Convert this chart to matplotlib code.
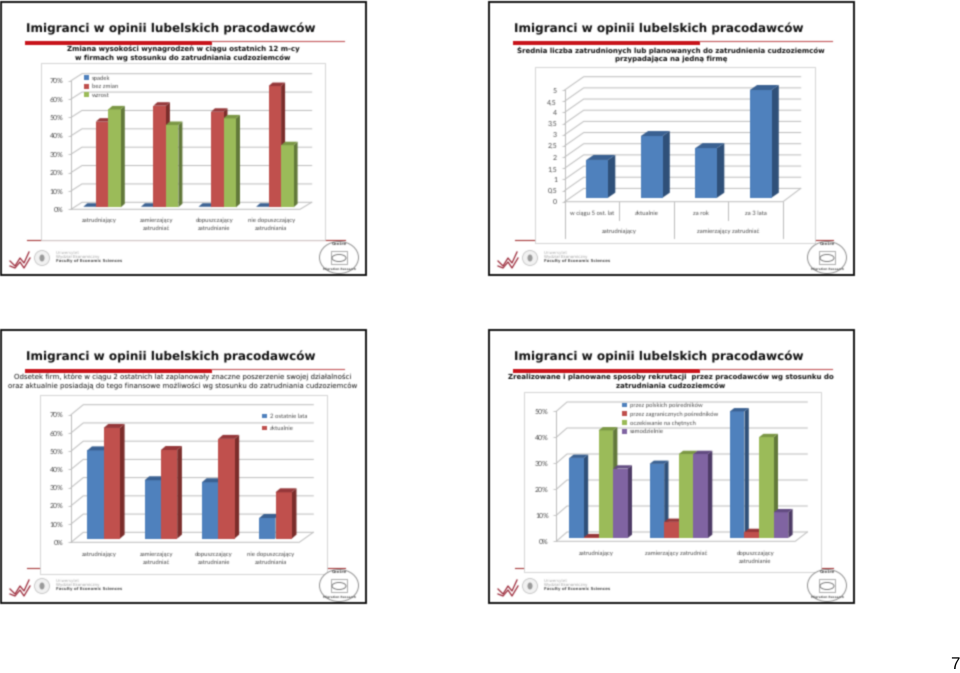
import matplotlib
matplotlib.use("Agg")
import numpy as np
import matplotlib.pyplot as plt
from matplotlib.patches import Rectangle, Polygon, Circle, Ellipse

plt.rcParams["text.hinting"] = "no_hinting"
plt.rcParams["text.hinting_factor"] = 1

W, H = 960, 673
TITLE = "Imigranci w opinii lubelskich pracodawców"

# ---------- data ----------
c1_cats = ["zatrudniający", "zamierzający\nzatrudniać", "dopuszczający\nzatrudnianie", "nie dopuszczający\nzatrudniania"]
c1_spadek = [0.3, 0.3, 0.3, 0.3]
c1_bez = [46.6, 55.3, 52.0, 66.0]
c1_wzrost = [53.3, 44.8, 48.4, 33.8]
c1_legend = ["spadek", "bez zmian", "wzrost"]
c1_ticks = [0, 10, 20, 30, 40, 50, 60, 70]

c2_inner = ["w ciągu 5 ost. lat", "aktualnie", "za rok", "za 3 lata"]
c2_outer = ["zatrudniający", "zamierzający zatrudniać"]
c2_vals = [1.69, 2.76, 2.22, 4.82]
c2_ticks = [0, 0.5, 1, 1.5, 2, 2.5, 3, 3.5, 4, 4.5, 5]
c2_ticklabels = ["0", "0,5", "1", "1,5", "2", "2,5", "3", "3,5", "4", "4,5", "5"]

c3_cats = c1_cats
c3_ostatnie = [48.4, 32.0, 30.9, 11.3]
c3_aktualnie = [60.7, 48.6, 54.7, 25.4]
c3_legend = ["2 ostatnie lata", "aktualnie"]
c3_ticks = c1_ticks

c4_cats = ["zatrudniający", "zamierzający zatrudniać", "dopuszczający\nzatrudnianie"]
c4_polscy = [30.8, 28.5, 48.7]
c4_zagr = [0.3, 6.2, 2.3]
c4_ocz = [41.4, 32.3, 38.8]
c4_sam = [26.7, 32.3, 9.9]
c4_legend = ["przez polskich pośredników", "przez zagranicznych pośredników", "oczekiwanie na chętnych", "samodzielnie"]
c4_ticks = [0, 10, 20, 30, 40, 50]

sub1 = "Zmiana wysokości wynagrodzeń w ciągu ostatnich 12 m-cy\nw firmach wg stosunku do zatrudniania cudzoziemców"
sub2 = "Średnia liczba zatrudnionych lub planowanych do zatrudnienia cudzoziemców\nprzypadająca na jedną firmę"
sub3 = "Odsetek firm, które w ciągu 2 ostatnich lat zaplanowały znaczne poszerzenie swojej działalności\noraz aktualnie posiadają do tego finansowe możliwości wg stosunku do zatrudniania cudzoziemców"
sub4 = "Zrealizowane i planowane sposoby rekrutacji  przez pracodawców wg stosunku do\nzatrudniania cudzoziemców"

# ---------- styles ----------
BLUE = ("#4f81bd", "#2f5079", "#3a6192")
RED = ("#c0504d", "#7b2d2b", "#96383a")
GREEN = ("#9bbb59", "#62793a", "#7c9845")
PURPLE = ("#8064a2", "#4d3b66", "#634c82")
GRID = "#bcbcbc"
LAB = "#4a4a4a"
LABFONT = "Lato"
SUBFONT = "DejaVu Sans"
LABSIZE = 4.5


def soften(img, dpi):
    """Small blur: the reference is a low-resolution scan of slides."""
    pad = 3
    a = np.pad(img, ((pad, pad), (pad, pad), (0, 0)))
    a[..., :3] *= a[..., 3:4]
    k = np.array([0.2, 0.6, 0.2])
    for axis in (0, 1):
        a = np.apply_along_axis(lambda m: np.convolve(m, k, mode="same"), axis, a)
    al = np.clip(a[..., 3:4], 1e-4, 1)
    a[..., :3] = np.clip(a[..., :3] / al, 0, 1)
    return a, -pad, -pad


fig = plt.figure(figsize=(W / 100, H / 100), dpi=100, facecolor="white")
bg = fig.add_axes([0, 0, 1, 1], zorder=0)
bg.set_xlim(0, W)
bg.set_ylim(H, 0)
bg.axis("off")
bg.set_agg_filter(soften)


def slide(ox, oy, sub, sub_y, bold, boxx, boxy, subsize):
    bg.add_patch(Rectangle((ox + 1, oy + 1.5), 364.5, 273.5, fc="white", ec="#111111", lw=1.4, zorder=0.1))
    bg.text(ox + 26.5, oy + 28.5, TITLE, fontsize=8.9, fontweight="bold", family=SUBFONT, color="#111111", va="center", ha="left")
    bg.add_patch(Rectangle((ox + 24.5, oy + 40.5), 187, 4, fc="#c8141c", ec="none"))
    bg.plot([ox + 211, ox + 344], [oy + 40.5, oy + 40.5], color="#c4585a", lw=0.8)
    bg.plot([ox + 27, ox + 345], [oy + 239.5, oy + 239.5], color="#a83c3e", lw=0.8, zorder=0.5)
    # logos
    bg.plot([ox + 10, ox + 15, ox + 20, ox + 24, ox + 29], [oy + 261, oy + 266, oy + 258, oy + 263, oy + 252], color="#9c2a3a", lw=0.9)
    bg.plot([ox + 10, ox + 15, ox + 20, ox + 24, ox + 30], [oy + 266, oy + 268, oy + 262, oy + 268, oy + 258], color="#9c2a3a", lw=0.9)
    bg.add_patch(Circle((ox + 42, oy + 258), 7.5, fc="#f2f2f2", ec="#c4c4c4", lw=0.6))
    bg.add_patch(Ellipse((ox + 42, oy + 258), 5, 7, fc="#9a9a9a", ec="none"))
    bg.text(ox + 56, oy + 252.5, "Uniwersytet", fontsize=2.6, color="#b0b0b0", va="center")
    bg.text(ox + 56, oy + 256, "Wydział Ekonomiczny", fontsize=2.8, color="#a0a0a0", va="center")
    bg.text(ox + 56, oy + 260.5, "Faculty of Economic Sciences", fontsize=3.1, fontweight="bold", color="#555555", va="center")
    bg.add_patch(Ellipse((ox + 339, oy + 257.5), 39, 32, fc="white", ec="#909090", lw=0.7, zorder=3))
    bg.add_patch(Ellipse((ox + 339, oy + 258), 14, 7, fc="none", ec="#666666", lw=0.6, zorder=3))
    bg.add_patch(Rectangle((ox + 331, oy + 251), 16, 13, fc="none", ec="#8c8c8c", lw=0.5, zorder=3))
    bg.text(ox + 339, oy + 245, "Centre", fontsize=2.6, fontweight="bold", color="#555555", ha="center", va="center", zorder=4)
    bg.text(ox + 339, oy + 269, "Migration Research", fontsize=2.1, fontweight="bold", color="#555555", ha="center", va="center", zorder=4)
    # subtitle
    bg.text(ox + 183, oy + sub_y, sub, fontsize=subsize, fontweight="bold" if bold else "normal", family=SUBFONT,
            color="#111111", ha="center", va="center", linespacing=1.3)
    # white chart panel
    bg.add_patch(Rectangle((ox + boxx[0], oy + boxy[0]), boxx[1] - boxx[0], boxy[1] - boxy[0], fc="white", ec="#cfcfcf", lw=0.6, zorder=0.8))


def chart(ox, oy, ax0, axr, y0, ytop, ymax, ticks, ticklabels, back_dx, back_dy, back_right,
          first_bar, spacing, bar_w, base_dy, depth_dx, depth_dy, series, colors, cats, pad):
    """Pixel geometry of one oblique Excel-style chart; values come from series."""
    n = len(series[0])
    left, right = ox + ax0, ox + axr
    ax = fig.add_axes([left / W, (H - (oy + y0)) / H, (right - left) / W, (y0 - ytop) / H], zorder=2)
    ax.patch.set_alpha(0)
    ax.set_xlim(0, n)
    ax.set_ylim(0, ymax)
    ax.set_agg_filter(soften)
    sx = (right - left) / n
    sy = (y0 - ytop) / ymax
    bdx, bdy = back_dx / sx, back_dy / sy
    for s in ("top", "right", "bottom"):
        ax.spines[s].set_visible(False)
    ax.spines["left"].set_color(GRID)
    ax.spines["left"].set_linewidth(0.7)
    ax.set_yticks(ticks, ticklabels, fontsize=4.8, color=LAB, family=LABFONT)
    ax.tick_params(axis="y", length=2, width=0.6, color=GRID, pad=3.5)
    ax.set_xticks([i + 0.5 for i in range(n)], cats, fontsize=LABSIZE, color=LAB, family=LABFONT, linespacing=1.6)
    ax.tick_params(axis="x", length=0, pad=pad)
    xr = (back_right - ax0) / sx
    for t in ticks:
        ax.plot([0, bdx, xr], [t, t + bdy, t + bdy], color=GRID, lw=0.7, clip_on=False, zorder=1)
    ax.plot([0, n, xr], [0, 0, bdy], color=GRID, lw=0.7, clip_on=False, zorder=1)
    bw = bar_w / sx
    ddx, ddy = depth_dx / sx, depth_dy / sy
    base = base_dy / sy
    containers = []
    z = 3
    nser = len(series)
    for g in range(n):
        for i in range(nser):
            x = g + (first_bar - ax0 + i * bar_w) / sx + g * (spacing / sx - 1)
            v = series[i][g]
            col = colors[i]
            b = ax.bar(x, v, bw, bottom=base, align="edge", color=col[0], ec="none", zorder=z + 1, clip_on=False)
            if g == 0:
                containers.append(b)
            ax.add_patch(Polygon([(x + bw, base), (x + bw + ddx, base + ddy), (x + bw + ddx, base + v + ddy), (x + bw, base + v)],
                                 fc=col[1], ec="none", zorder=z, clip_on=False))
            ax.add_patch(Polygon([(x, base + v), (x + bw, base + v), (x + bw + ddx, base + v + ddy), (x + ddx, base + v + ddy)],
                                 fc=col[2], ec="none", zorder=z + 1, clip_on=False))
            z += 2
    return ax, containers, sx, sy


def legend(ax, containers, labels, px, py, ax0, y0, h_px, width_px, spacing):
    leg = ax.legend(containers, labels, loc="upper left", bbox_to_anchor=((px - ax0) / width_px, (y0 - py) / h_px),
                    frameon=False, borderaxespad=0, borderpad=0, handlelength=0.8, handleheight=0.8,
                    handletextpad=0.45, labelspacing=spacing, prop={"family": LABFONT, "size": LABSIZE})
    for t in leg.get_texts():
        t.set_color(LAB)
    leg.set_zorder(200)


# slide 1
slide(0, 0, sub1, 54, True, (40.7, 325), (63, 240), 5.3)
ax1, c, sx, sy = chart(0, 0, 71, 300, 209.3, 80.7, 70, c1_ticks, [f"{t}%" for t in c1_ticks], 11, 7, 311.7,
                       83.3, 57.6, 12.5, 2, 4, 3.5, [c1_spadek, c1_bez, c1_wzrost], [BLUE, RED, GREEN], c1_cats, 6)
legend(ax1, c, c1_legend, 84, 75, 71, 209.3, 128.6, 229, 0.5)

# slide 2
slide(488, 0, sub2, 54, True, (47.3, 327.3), (66.7, 242.7), 5.2)
ax2, c, sx, sy = chart(488, 0, 76.7, 295, 201.7, 90, 5, c2_ticks, c2_ticklabels, 19, 13.3, 312.7,
                       98.3, 54.5, 21.7, 4, 7.3, 5, [c2_vals], [BLUE], c2_inner, 6.5)
for x in [0, 1, 2, 3, 4]:
    tall = x in (0, 2, 4)
    ax2.plot([x, x], [0, -(36 if tall else 18.5) / sy], color=GRID, lw=0.7, clip_on=False)
for i, lab in enumerate(c2_outer):
    ax2.text(2 * i + 1, -30 / sy, lab, fontsize=LABSIZE, color=LAB, family=LABFONT, ha="center", va="center")

# slide 3
slide(0, 328, sub3, 54, False, (40, 326.7), (66.7, 245.7), 5.3)
ax3, c, sx, sy = chart(0, 328, 71, 299.3, 214.3, 86.7, 70, c3_ticks, [f"{t}%" for t in c3_ticks], 12.3, 10, 313.3,
                       87.3, 57.3, 16.3, 3.7, 4.7, 4, [c3_ostatnie, c3_aktualnie], [BLUE, RED], c3_cats, 6.5)
legend(ax3, c, c3_legend, 262, 413.5, 71, 542.3, 127.6, 228.3, 1.05)

# slide 4
slide(488, 328, sub4, 54, True, (35.7, 332.7), (64.3, 244.3), 5.2)
ax4, c, sx, sy = chart(488, 328, 68.3, 307.3, 213.3, 83.3, 50, c4_ticks, [f"{t}%" for t in c4_ticks], 10.7, 9.3, 319.3,
                       81.3, 80.3, 14.6, 3.3, 4.3, 3.3, [c4_polscy, c4_zagr, c4_ocz, c4_sam], [BLUE, RED, GREEN, PURPLE], c4_cats, 6.5)
legend(ax4, c, c4_legend, 622, 402.5, 556.3, 541.3, 130, 239, 0.5)

fig.text(955 / W, 1 - 665 / H, "7", fontsize=12, family="Liberation Sans", color="black", ha="center", va="center")

fig.savefig("out.png", dpi=100)
